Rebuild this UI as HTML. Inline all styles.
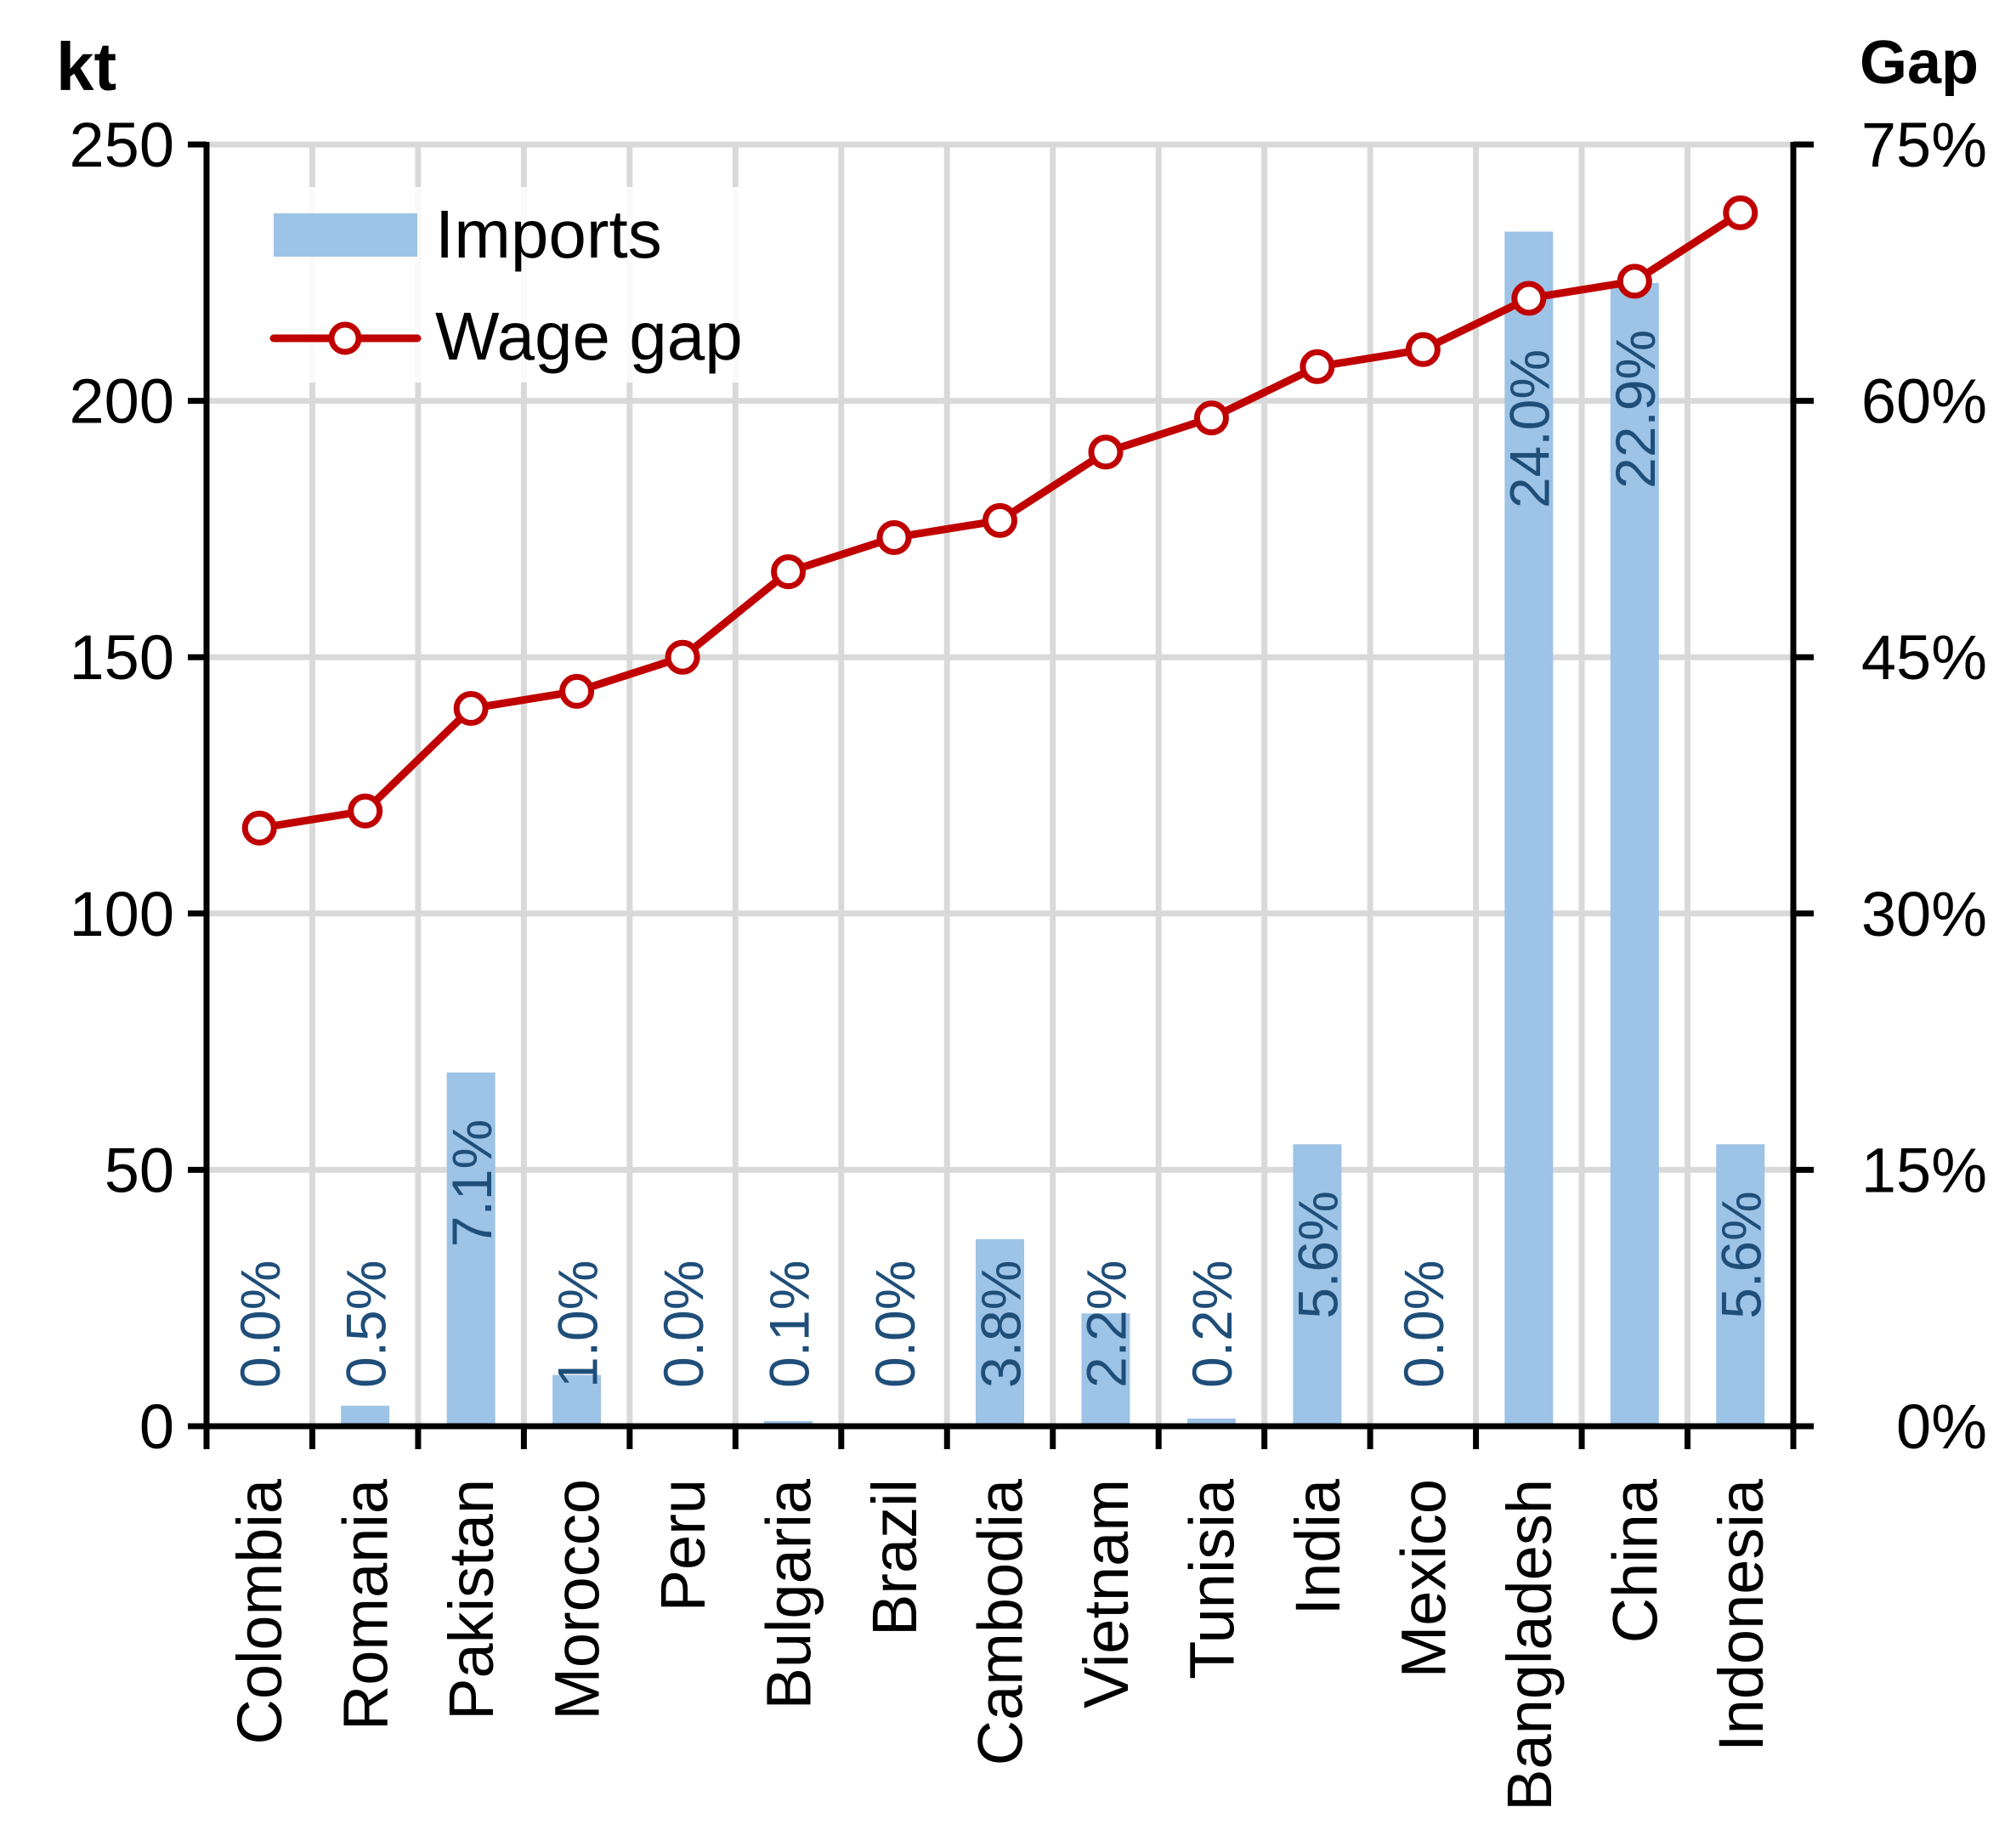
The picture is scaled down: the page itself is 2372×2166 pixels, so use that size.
<!DOCTYPE html>
<html><head><meta charset="utf-8"><style>
html,body{margin:0;padding:0;background:#fff;}
svg{display:block;font-family:"Liberation Sans",Arial,sans-serif;}
</style></head><body>
<svg id="chart" width="2372" height="2166" viewBox="0 0 2372 2166" xmlns="http://www.w3.org/2000/svg">
<g id="grid"></g>
<g id="bars"></g>
<g id="legendbg"></g>
<g id="line"></g>
<g id="labels"></g>
<g id="axes"></g>
<text x="66" y="106" font-size="80" font-weight="bold">kt</text>
<text x="2328" y="98" font-size="72" font-weight="bold" text-anchor="end">Gap</text>
<g>
<rect x="310" y="220" width="570" height="230" fill="#fff" opacity="0.85"/>
<rect x="322" y="251" width="169" height="51" fill="#9dc3e6"/>
<text x="512" y="303" font-size="80">Imports</text>
<line x1="322" y1="398" x2="491" y2="398" stroke="#c00000" stroke-width="9" stroke-linecap="round"/>
<circle cx="406" cy="398" r="16" fill="#fff" stroke="#c00000" stroke-width="7"/>
<text x="512" y="423" font-size="80">Wage gap</text>
</g>
</svg>
<script>
const categories = ["Colombia","Romania","Pakistan","Morocco","Peru","Bulgaria","Brazil","Cambodia","Vietnam","Tunisia","India","Mexico","Bangladesh","China","Indonesia"];
const imports = [0,4,69,10,0,1,0,36.5,22,1.5,55,0,233,223,55];
const shareLabels = ["0.0%","0.5%","7.1%","1.0%","0.0%","0.1%","0.0%","3.8%","2.2%","0.2%","5.6%","0.0%","24.0%","22.9%","5.6%"];
const wageGap = [35,36,42,43,45,50,52,53,57,59,62,63,66,67,71];
const leftTicks = [0,50,100,150,200,250];
const rightTicks = ["0%","15%","30%","45%","60%","75%"];
const rightTickValues = [0,15,30,45,60,75];

const NS="http://www.w3.org/2000/svg";
const L=243,R=2110,T=170,B=1678;
const step=(R-L)/categories.length;
const xc=i=>L+step*(i+0.5);
const yL=v=>B-(v/250)*(B-T);
const yR=v=>B-(v/75)*(B-T);
function mk(tag,attrs,parent,text){const e=document.createElementNS(NS,tag);for(const k in attrs)e.setAttribute(k,attrs[k]);if(text!==undefined)e.textContent=text;document.getElementById(parent).appendChild(e);return e;}

leftTicks.forEach(v=>{const e=mk('line',{x1:L,x2:R,y1:yL(v),y2:yL(v),stroke:'#d9d9d9','stroke-width':7},'grid');

});
for(let i=1;i<categories.length;i++){const x=L+step*i;const e=mk('line',{x1:x,x2:x,y1:T,y2:B,stroke:'#d9d9d9','stroke-width':7},'grid');

}

const bw=57;
imports.forEach((v,i)=>{const y=yL(v);const e=mk('rect',{x:xc(i)-bw/2,y:y,width:bw,height:B-y,fill:'#9dc3e6'},'bars');

});

const pts=wageGap.map((v,i)=>xc(i)+','+yR(v)).join(' ');
const pl=mk('polyline',{points:pts,fill:'none',stroke:'#c00000','stroke-width':9,'stroke-linejoin':'round'},'line');


wageGap.forEach((v,i)=>{const c=mk('circle',{cx:xc(i),cy:yR(v),r:17,fill:'#fff',stroke:'#c00000','stroke-width':7},'line');

});

const fs=66;
shareLabels.forEach((s,i)=>{
  const len=s.length*0.556*fs*0.95;
  let endY=Math.min(yL(imports[i])+55,1622-len);
  if(i===12) endY=Math.max(endY, yR(wageGap[i])+60);
  const x=xc(i)+fs*0.36;
  const t=mk('text',{x:x,y:endY,'font-size':fs,fill:'#1f4e79','text-anchor':'end',transform:`rotate(-90 ${x} ${endY})`},'labels',s);
  
  
});

[[L,T-3,L,B+3],[R,T-3,R,B+3],[L-20,B,R+3,B]].forEach(a=>{const e=mk('line',{x1:a[0],y1:a[1],x2:a[2],y2:a[3],stroke:'#000','stroke-width':7},'axes');

});
leftTicks.forEach(v=>{const y=yL(v);
  const tk=mk('line',{x1:L-22,x2:L,y1:y,y2:y,stroke:'#000','stroke-width':7},'axes');
  
  
  const t=mk('text',{x:205,y:y+26,'font-size':74,'text-anchor':'end'},'axes',String(v));
  
  });
rightTickValues.forEach((v,i)=>{const y=yR(v);
  const tk=mk('line',{x1:R,x2:R+24,y1:y,y2:y,stroke:'#000','stroke-width':7},'axes');
  
  
  const t=mk('text',{x:2338,y:y+26,'font-size':74,'text-anchor':'end'},'axes',rightTicks[i]);
  
  });
for(let i=0;i<=categories.length;i++){const x=L+step*i;
  const tk=mk('line',{x1:x,x2:x,y1:B,y2:B+27,stroke:'#000','stroke-width':7},'axes');
  
  }
categories.forEach((c,i)=>{const x=xc(i)+26;const y=1740;
  const t=mk('text',{x:x,y:y,'font-size':74,'text-anchor':'end',transform:`rotate(-90 ${x} ${y})`},'axes',c);
  
  });
</script>
</body></html>
